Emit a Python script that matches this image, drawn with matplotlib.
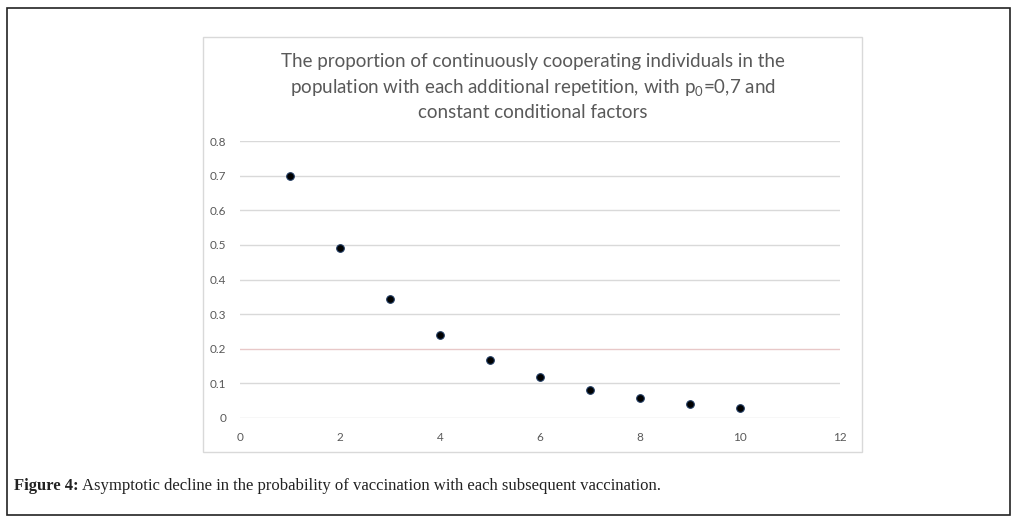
import matplotlib.pyplot as plt
from matplotlib.patches import Rectangle

plt.rcParams['mathtext.fontset'] = 'custom'
plt.rcParams['mathtext.rm'] = 'Lato'
plt.rcParams['mathtext.it'] = 'Lato:italic'

# repetitions and proportion of cooperating individuals
repetition = [1, 2, 3, 4, 5, 6, 7, 8, 9, 10]
proportion = [0.70, 0.49, 0.343, 0.24, 0.168, 0.118, 0.082, 0.058, 0.040, 0.028]
x_ticks = [0, 2, 4, 6, 8, 10, 12]
y_ticks = [0, 0.1, 0.2, 0.3, 0.4, 0.5, 0.6, 0.7, 0.8]

W, H = 1021, 525
fig = plt.figure(figsize=(W / 100, H / 100), dpi=100)

# outer frame and chart box
fig.patches.append(Rectangle((7 / W, 1 - 515 / H), 1003 / W, 507 / H,
                             transform=fig.transFigure, fill=False,
                             edgecolor='#222222', linewidth=1.2))
fig.patches.append(Rectangle((203 / W, 1 - 452 / H), 659 / W, 415 / H,
                             transform=fig.transFigure, fill=False,
                             edgecolor='#d9d9d9', linewidth=1.0))

ax = fig.add_axes([240 / W, 1 - 418 / H, 600 / W, 277 / H])
ax.scatter(repetition, proportion, s=30, color='black',
           edgecolors='#1f3a60', linewidths=0.8, zorder=3)

ax.set_xlim(0, 12)
ax.set_ylim(0, 0.8)
ax.set_xticks(x_ticks)
ax.set_yticks(y_ticks)
ax.set_xticklabels([str(t) for t in x_ticks])
ax.set_yticklabels(['0' if t == 0 else f'{t:.1f}' for t in y_ticks])
ax.tick_params(length=0, colors='#595959', labelsize=8.5, pad=10)
for lab in ax.get_xticklabels() + ax.get_yticklabels():
    lab.set_family('Lato')

for t in y_ticks:
    c = '#e8c8c8' if t == 0.2 else '#d9d9d9'
    ax.axhline(t, color=c, linewidth=1.0, zorder=1)
for s in ax.spines.values():
    s.set_visible(False)

fig.text(533 / W, 1 - 87 / H,
         'The proportion of continuously cooperating individuals in the\n'
         'population with each additional repetition, with p$_{\\mathrm{0}}$=0,7 and\n'
         'constant conditional factors',
         ha='center', va='center', fontsize=13.5, color='#595959',
         family='Lato', linespacing=1.42)

cap1 = fig.text(14 / W, 1 - 486 / H, 'Figure 4:', ha='left', va='center',
                fontsize=12, fontweight='bold', family='Liberation Serif',
                color='#222222')
fig.canvas.draw()
bb = cap1.get_window_extent()
fig.text(bb.x1 / W + 3 / W, 1 - 486 / H,
         'Asymptotic decline in the probability of vaccination with each subsequent vaccination.',
         ha='left', va='center', fontsize=12, family='Liberation Serif', color='#222222')

fig.savefig('out.png', dpi=100)
